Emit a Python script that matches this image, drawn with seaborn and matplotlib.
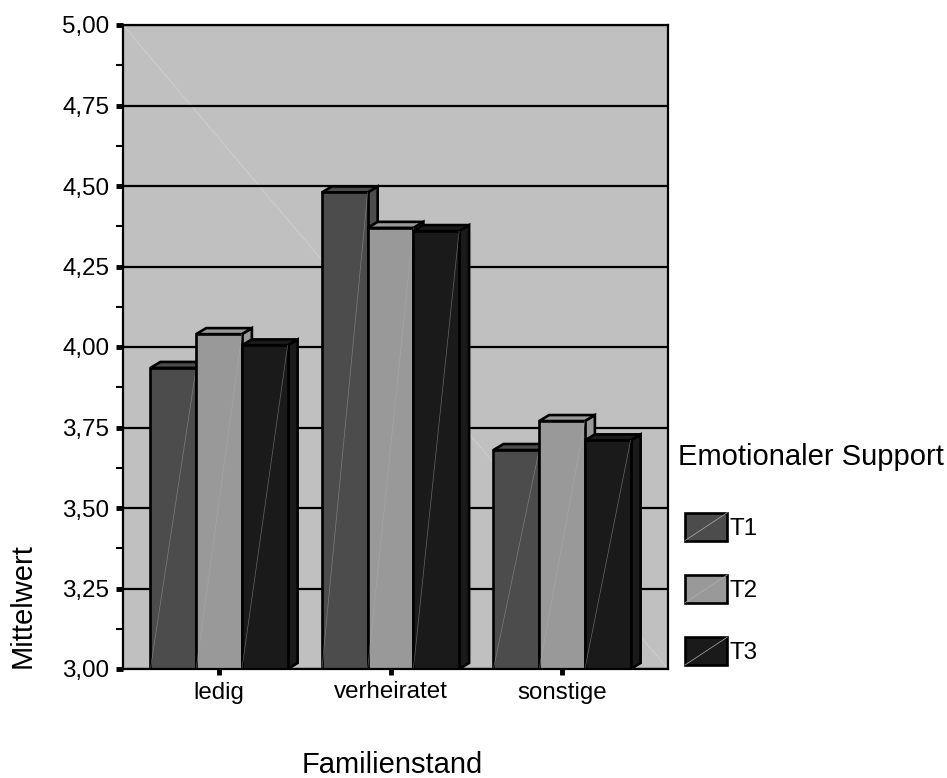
import pandas as pd
import matplotlib
matplotlib.use('Agg')
import matplotlib.pyplot as plt
import seaborn as sns
from matplotlib.legend_handler import HandlerPatch
from matplotlib.lines import Line2D
from matplotlib.patches import Polygon, Rectangle
from matplotlib.ticker import MultipleLocator, FuncFormatter

# Values
categories = ['ledig', 'verheiratet', 'sonstige']
t1_values = [3.935, 4.48, 3.68]
t2_values = [4.04, 4.37, 3.77]
t3_values = [4.005, 4.36, 3.71]
series_names = ['T1', 'T2', 'T3']
series_colors = ['#4c4c4c', '#999999', '#1a1a1a']

BG = '#c0c0c0'
LW = 1.9
GRID_LW = 1.6

df = pd.DataFrame({
    'Familienstand': categories * 3,
    'Mittelwert': t1_values + t2_values + t3_values,
    'Zeit': [s for s in series_names for _ in categories],
})


# Legend box with the thin diagonal the bars have
class DiagonalHandler(HandlerPatch):
    def create_artists(self, legend, orig, xd, yd, w, h, fontsize, trans):
        inset = 5
        box = Rectangle((-xd + inset, -yd), w - inset, h, facecolor=orig.get_facecolor(),
                        edgecolor='black', linewidth=LW, transform=trans)
        diag = Line2D([-xd + inset, -xd + w], [-yd, -yd + h], color='#b0b0b0', lw=0.5, transform=trans)
        return [box, diag]


sns.set_theme(style='white')
plt.rcParams['font.family'] = ['Liberation Sans', 'DejaVu Sans']

fig = plt.figure(figsize=(9.47, 7.78), dpi=100)
ax = fig.add_axes([123 / 947, 1 - 669 / 778, 545 / 947, 644 / 778])
ax.set_facecolor(BG)

sns.barplot(data=df, x='Familienstand', y='Mittelwert', hue='Zeit', order=categories,
            hue_order=series_names, palette=series_colors, saturation=1, width=0.8,
            edgecolor='black', linewidth=LW, legend=False, ax=ax, zorder=5)

ax.set_xlim(-0.56, 2.618)
ax.set_ylim(3, 5)

# Pseudo 3D depth: side and top faces built from each drawn bar
dx = 10 / 171.5
dy = 6 / 322
for s, container in enumerate(ax.containers):
    color = series_colors[s]
    for bar in container:
        x0, x1 = bar.get_x(), bar.get_x() + bar.get_width()
        y0, top = 3, bar.get_y() + bar.get_height()
        z = 5 + s
        bar.set_zorder(z + 0.2)
        ax.add_patch(Polygon([(x1, y0), (x1 + dx, y0 + dy), (x1 + dx, top + dy), (x1, top)],
                             facecolor=color, edgecolor='black', lw=LW, zorder=z))
        ax.add_patch(Polygon([(x0, top), (x0 + dx, top + dy), (x1 + dx, top + dy), (x1, top)],
                             facecolor=color, edgecolor='black', lw=LW, zorder=z + 0.1))
        ax.plot([x0, x1], [y0, top], color='#b0b0b0', lw=0.5, alpha=0.5, zorder=z + 0.3)

# Background diagonal
ax.plot([0, 1], [1, 0], transform=ax.transAxes, color='#d4d4d4', lw=0.5, zorder=1)

# Gridlines run in front of the bars
ax.yaxis.set_major_locator(MultipleLocator(0.25))
ax.yaxis.set_minor_locator(MultipleLocator(0.125))
ax.grid(axis='y', which='major', color='black', lw=GRID_LW, zorder=20)
ax.set_axisbelow(False)
ax.yaxis.set_major_formatter(FuncFormatter(lambda v, p: f'{v:.2f}'.replace('.', ',')))

ax.tick_params(axis='y', which='major', left=True, length=5, width=3.5, labelsize=17.4,
               pad=5, color='black', labelcolor='black')
ax.tick_params(axis='y', which='minor', left=True, length=5, width=1.5, color='black')
ax.tick_params(axis='x', which='major', bottom=True, length=4, width=3.5, labelsize=17.4,
               pad=5, color='black', labelcolor='black')

for side in ax.spines.values():
    side.set_visible(True)
    side.set_color('black')
    side.set_linewidth(GRID_LW)
    side.set_zorder(30)

ax.set_xlabel('')
ax.set_ylabel('')
fig.text(392 / 947, 1 - 765 / 778, 'Familienstand', ha='center', va='center', fontsize=21, color='black')
fig.text(23 / 947, 1 - 606 / 778, 'Mittelwert', ha='center', va='center', rotation=90, fontsize=21, color='black')

# Legend
handles = [Rectangle((0, 0), 1, 1, facecolor=c) for c in series_colors]
leg = fig.legend(handles, series_names, title='Emotionaler Support', frameon=False,
                 loc='upper left', bbox_to_anchor=(678 / 947, 1 - 443 / 778), fontsize=17.4,
                 title_fontsize=21, labelspacing=1.42, handlelength=2.04, handleheight=1.4,
                 handletextpad=0.1, borderaxespad=0, borderpad=0,
                 labelcolor='black',
                 handler_map={Rectangle: DiagonalHandler()})
leg.get_title().set_color('black')
leg._legend_box.align = 'left'
leg._legend_box.sep = 30

fig.savefig('out.png', dpi=100)
